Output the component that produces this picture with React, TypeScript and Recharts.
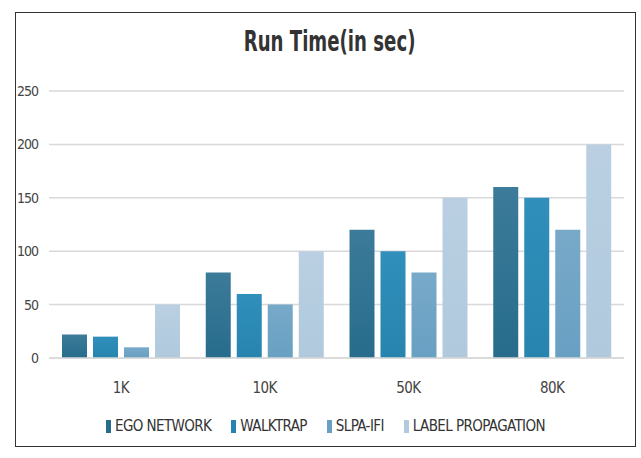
import React from "react";
import { Bar, BarChart, CartesianGrid, XAxis, YAxis } from "recharts";

const categories = ["1K", "10K", "50K", "80K"];
const egoNetwork = [22, 80, 120, 160];
const walktrap = [20, 60, 100, 150];
const slpaIfi = [10, 50, 80, 120];
const labelPropagation = [50, 100, 150, 200];
const yTicks = [0, 50, 100, 150, 200, 250];

const SERIES = [
  { key: "ego", name: "EGO NETWORK", top: "#3c7b99", bottom: "#276c8c" },
  { key: "walktrap", name: "WALKTRAP", top: "#3090bb", bottom: "#2784ae" },
  { key: "slpa", name: "SLPA-IFI", top: "#78a9c9", bottom: "#68a0c3" },
  { key: "label", name: "LABEL PROPAGATION", top: "#bad0e2", bottom: "#b0c9dd" },
];

const data = categories.map((c, i) => ({
  name: c,
  ego: egoNetwork[i],
  walktrap: walktrap[i],
  slpa: slpaIfi[i],
  label: labelPropagation[i],
}));

const FONT = '"DejaVu Sans Condensed", "Liberation Sans", sans-serif';

function LegendRow() {
  return (
    <div
      style={{
        display: "flex",
        justifyContent: "center",
        gap: 20,
        fontFamily: FONT,
        fontSize: 15,
        letterSpacing: -0.6,
        color: "#333",
      }}
    >
      {SERIES.map((s) => (
        <div key={s.key} style={{ display: "flex", alignItems: "center" }}>
          <span
            style={{
              display: "inline-block",
              width: 5,
              height: 13,
              background: s.bottom,
              marginRight: 4,
            }}
          />
          {s.name}
        </div>
      ))}
    </div>
  );
}

export default function App() {
  return (
    <div
      style={{
        position: "absolute",
        left: 0,
        top: 0,
        width: 641,
        height: 458,
        background: "#fff",
      }}
    >
      <div
        style={{
          position: "absolute",
          left: 15,
          top: 12,
          width: 619,
          height: 433,
          border: "1.5px solid #333",
        }}
      />
      <div
        style={{
          position: "absolute",
          left: 15,
          top: 25,
          width: 621,
          textAlign: "center",
          fontFamily: FONT,
          fontWeight: "bold",
          fontSize: 28,
          color: "#333",
          transform: "scaleX(0.72)",
          transformOrigin: "325px 0",
        }}
      >
        Run Time(in sec)
      </div>
      <div style={{ position: "absolute", left: 0, top: 0 }}>
        <BarChart
          width={641}
          height={458}
          data={data}
          margin={{ top: 91, right: 17, bottom: 70, left: 15 }}
          barCategoryGap={13}
          barGap={6}
        >
          <defs>
            {SERIES.map((s) => (
              <linearGradient key={s.key} id={`g-${s.key}`} x1="0" y1="0" x2="0" y2="1">
                <stop offset="0%" stopColor={s.top} />
                <stop offset="100%" stopColor={s.bottom} />
              </linearGradient>
            ))}
          </defs>
          <CartesianGrid vertical={false} stroke="#d9d9d9" strokeWidth={1.5} />
          <XAxis
            dataKey="name"
            axisLine={{ stroke: "#d9d9d9", strokeWidth: 1.5 }}
            tickLine={false}
            tickMargin={18}
            tick={{ fontFamily: FONT, fontSize: 15, fill: "#444", letterSpacing: -0.6 }}
          />
          <YAxis
            width={34}
            domain={[0, 250]}
            ticks={yTicks}
            axisLine={false}
            tickLine={false}
            tickMargin={5}
            tick={{ fontFamily: FONT, fontSize: 14, fill: "#444", letterSpacing: -1 }}
          />
          {SERIES.map((s) => (
            <Bar
              key={s.key}
              dataKey={s.key}
              name={s.name}
              fill={`url(#g-${s.key})`}
              isAnimationActive={false}
            />
          ))}
        </BarChart>
      </div>
      <div style={{ position: "absolute", left: 15, top: 417, width: 621 }}>
        <LegendRow />
      </div>
    </div>
  );
}
